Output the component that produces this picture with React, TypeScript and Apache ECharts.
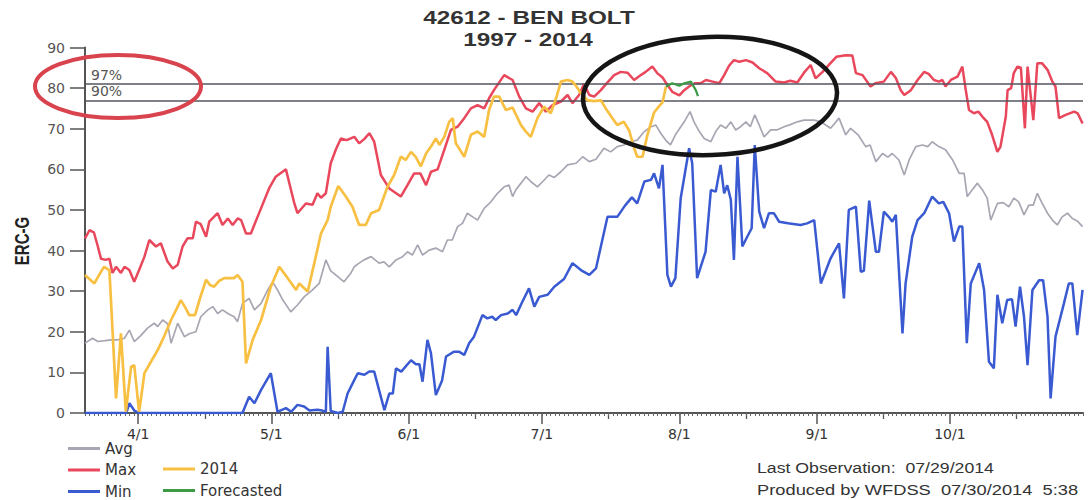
import React, { useEffect, useRef } from "react";
import * as echarts from "echarts";

// Day index 0 = March 20; last day 225 = October 31
const monthTickDays = [12, 42, 73, 103, 134, 165, 195];
const monthTickLabels = ["4/1", "5/1", "6/1", "7/1", "8/1", "9/1", "10/1"];
const midMonthTickDays = [27, 57, 88, 118, 149, 180, 210];

const percentileLevels = [81, 77];
const percentileLabels = ["97%", "90%"];

const titleLines = ["42612 - BEN BOLT", "1997 - 2014"];
const yAxisTitle = "ERC-G";
const lastObservation = "Last Observation:  07/29/2014";
const producedBy = "Produced by WFDSS  07/30/2014  5:38";

const avgData: number[][] = [
  [0, 17.2], [1.7, 18.4], [2.9, 17.6], [4.5, 17.8], [5.9, 18], [7.3, 18], [8.9, 18.4], [10, 20.4], [11.1, 17.6],
  [12.5, 19], [14.1, 20.9], [15.6, 22.1], [16.4, 21.3], [17.5, 22.9], [18.6, 22], [19.4, 17.2], [20.9, 22.1],
  [22.4, 18.8], [23.5, 19.5], [25, 20], [26.1, 23.7], [27.7, 25.4], [28.8, 26.2], [29.9, 24.5], [31, 25.4],
  [32.2, 24.5], [33.6, 23.7], [34.4, 22.5], [35.5, 27], [37, 28.2], [38.2, 25.4], [39.7, 27], [41.2, 30.3],
  [42.3, 32.3], [43.4, 30.3], [44.6, 27.8], [46.4, 24.9], [47.9, 26.6], [49.4, 28.6], [51.3, 30.3], [52.8, 31.9],
  [54.3, 37.7], [55.4, 35], [57, 33.6], [58.4, 32.3], [59.9, 34.4], [60.7, 36], [61.8, 36.9], [62.9, 37.7],
  [64.5, 38.5], [66.3, 36.9], [67.4, 37.2], [68.6, 36], [70.1, 37.7], [71.6, 38.5], [72.7, 39.7], [73.8, 38.9],
  [75, 41.4], [76.1, 38.9], [77.6, 40.1], [79.1, 40.6], [80.6, 39.7], [81.7, 42.6], [82.8, 42.6], [84, 45.9],
  [85.1, 46.7], [86.2, 49.2], [87.4, 48.3], [88.5, 47.5], [90, 50.4], [91.5, 52], [93, 54.1], [94.5, 55.7],
  [95.6, 56.1], [96.4, 53.3], [97.1, 54.9], [98.3, 56.6], [99.4, 58.2], [100.5, 57], [102, 55.7], [103.2, 57],
  [104.6, 58.6], [105.8, 58], [107.3, 59.4], [108.8, 61.1], [110.7, 61.5], [112.2, 63.1], [113.7, 61.9],
  [115.2, 62.5], [117, 65.2], [118.5, 64.3], [120, 65.6], [121.5, 66], [123, 66.8], [124.5, 67.2], [126.1, 69.3],
  [127.6, 70.5], [128.7, 70.9], [129.8, 68.9], [130.9, 67.2], [132, 66], [133.1, 68.5], [135.1, 71.7],
  [136.4, 74.2], [137.3, 71.7], [138.5, 69.3], [139.6, 67.6], [141.1, 66.8], [142.2, 69.3], [143.3, 70.9],
  [144.5, 70.1], [145.6, 71.7], [146.7, 69.7], [147.8, 70.5], [149, 71.7], [150, 70.5], [151, 73.4], [152, 70.9],
  [153.1, 68], [154.6, 69.7], [156, 69.7], [157.6, 70.5], [159, 71], [160.6, 71.7], [162.1, 72.1], [164.4, 72.1],
  [165.9, 71.7], [167, 70.9], [168.1, 70.1], [170, 72.6], [171.5, 68.5], [172.6, 70.1], [174.3, 68.5], [176, 65.6],
  [177, 66], [178.3, 61.9], [179.8, 63.9], [181, 63], [182, 63.9], [183.5, 62.3], [184.7, 58.6], [185.8, 62.3],
  [187.3, 65.6], [188.8, 66], [190, 65.6], [191, 66.8], [192.5, 65.6], [194, 64.8], [195.6, 62.3], [197.1, 59],
  [198.2, 59], [198.9, 53.3], [200, 54.9], [201.2, 56.6], [202.3, 55], [203.4, 52.9], [204.2, 47.5], [205.7, 51.6],
  [207, 51.8], [208.3, 50.8], [209.4, 52.9], [210.5, 52], [211.7, 48.8], [212.8, 51.2], [213.8, 51.2],
  [214.7, 54.1], [215.8, 51.6], [217, 49.2], [218.1, 47.5], [219.2, 46.3], [220.3, 48.3], [221.5, 49.2],
  [222.6, 47.9], [223.7, 47.3], [224.9, 45.9],
];

const maxData: number[][] = [
  [0, 43], [1, 45], [2, 44.5], [2.9, 41], [3.6, 38], [4.7, 37.7], [5.5, 38], [6.2, 34.5], [7, 36], [8.1, 34.5],
  [8.9, 36], [10, 35.2], [11.1, 32.3], [12.2, 35.2], [13.4, 38.5], [14.5, 42.6], [16, 41], [17.1, 41.8],
  [18.6, 37.3], [19.8, 35.6], [20.9, 36.5], [22, 41], [23.1, 43], [24.3, 43], [25, 47.1], [26.1, 46.5],
  [27.3, 43.4], [28, 47.1], [29.9, 49.2], [31, 46.3], [32.2, 47.9], [33.3, 46.3], [34.4, 47.9], [35.2, 47.5],
  [36.3, 44.2], [37.4, 44.2], [38.9, 48.3], [41.5, 55.3], [43, 58.2], [45.3, 60], [47.2, 51.6], [47.9, 49.2],
  [49.8, 51.6], [51.3, 51.3], [52.4, 54.1], [53.2, 53], [54.3, 54.1], [55.4, 61.5], [56.6, 65], [57.7, 67.6],
  [59, 67.2], [60.7, 68], [61.8, 66.4], [63, 67.5], [64.1, 68.9], [65.2, 66.8], [66.7, 58.6], [68.6, 55.3],
  [71.2, 53.3], [72.7, 56.1], [74.2, 59], [75.6, 59], [76.9, 56.1], [78, 59.4], [79.5, 60], [81, 64.8],
  [82.5, 69.7], [84, 70.5], [85.5, 72.6], [87, 75], [88.5, 75.8], [90, 75], [91.1, 77.5], [92.2, 79.5], [93, 80.8],
  [94.5, 83.2], [96.4, 82], [97.9, 77.9], [99.4, 75], [100.9, 74.2], [102.4, 76.3], [103.9, 74.2], [105.4, 75.8],
  [107.3, 76.7], [108.8, 78.3], [109.9, 76.3], [111.4, 78.3], [112.5, 81], [113.7, 78.3], [114.8, 77.9],
  [116.3, 79.5], [117.8, 81.4], [119.3, 83.2], [120.8, 84], [122.3, 83.8], [123.8, 82], [125, 83], [126.4, 84],
  [127.9, 85.3], [129, 83.7], [130.2, 82.6], [131.3, 80.8], [132.4, 79.1], [134, 78.2], [135.1, 79.5],
  [136.2, 80.4], [137.5, 81.2], [138.8, 81.2], [140, 82], [141.5, 81.6], [143, 81.2], [144.1, 83.2], [145.2, 85.5],
  [146.3, 86.9], [147.5, 86.5], [149, 86.9], [150.5, 86.3], [152, 84.9], [153.8, 83.7], [155.7, 81.6],
  [157.6, 81.4], [159, 81.8], [160.6, 81.4], [162.1, 83.8], [163.6, 85.7], [164.7, 82.4], [166.3, 84],
  [167.7, 85.7], [169.4, 87.7], [171.5, 88.1], [173, 88], [173.8, 83.7], [175.3, 83.2], [177.1, 80.4],
  [178.2, 81.2], [180.1, 81.6], [181.7, 84], [182.8, 82.5], [183.9, 79.5], [184.7, 78.3], [186.2, 79.5],
  [187.7, 82], [189.2, 84], [190.2, 83.5], [191.4, 82], [192.5, 81.6], [193.3, 82], [194, 80.4], [195.2, 82],
  [196.7, 82.8], [197.8, 85.3], [198.5, 80], [199.3, 74.6], [200.4, 73.8], [201.4, 74.2], [202.3, 73],
  [203.4, 71.7], [204.5, 68.5], [205.7, 64.3], [206.4, 65.6], [207.6, 73], [208, 79.5], [208.8, 80], [209.4, 83.7],
  [210.2, 85.3], [211, 85], [211.9, 70.1], [212.5, 85.3], [213.8, 72.1], [214.7, 86.1], [215.8, 86.1], [217, 84.5],
  [218.1, 81.6], [218.8, 80.4], [219.6, 72.6], [221.1, 73.4], [223, 74.2], [223.8, 73.8], [224.9, 71.3],
];

const minData: number[][] = [
  [0, 0], [9.3, 0], [10, 2.4], [11.2, 0.5], [12.2, 0], [35.5, 0], [37, 4], [38.2, 2.4], [39.7, 5.7], [41.9, 9.8],
  [43.4, 0.3], [45.3, 1.2], [46.5, 0.3], [47.9, 2], [49.4, 1.6], [50.6, 0.6], [52.4, 0.8], [53.5, 0.6], [54.3, 0.3],
  [54.7, 16.3], [55.4, 0.5], [57, 0], [58.1, 0.3], [59.2, 4.8], [60.7, 8.1], [61.5, 9.8], [63, 9.4], [64.1, 10.2],
  [65.2, 10.2], [67.5, 0.7], [68.6, 4.8], [69.4, 4.8], [70.1, 11], [71.3, 10.2], [73.5, 13], [74.6, 12],
  [75.4, 12], [76.1, 7.7], [77.2, 18], [78, 14.7], [79.1, 4.4], [80.5, 8], [81.4, 13.9], [83.2, 15.1],
  [84.3, 15.1], [85.5, 14.3], [86.6, 17.2], [87.7, 18.8], [89.6, 24.1], [90.7, 23.3], [91.8, 23.7], [92.6, 22.9],
  [93.8, 24.1], [95.3, 24.5], [96.4, 25.4], [97.2, 24.1], [98.6, 27.4], [100.1, 30.7], [101.3, 26.2],
  [102.4, 28.6], [104.3, 29.1], [105.8, 31.1], [108, 33], [109.9, 36.9], [111.8, 35.2], [113.7, 34],
  [115.2, 35.6], [116.3, 41], [117.8, 48.3], [120, 48.3], [121.7, 51], [123.3, 53.1], [124.5, 51.6], [126.1, 57],
  [127.6, 57.4], [128.3, 59], [129.4, 55.3], [130.2, 61.1], [131.3, 34], [132.1, 31.1], [133.1, 33.2],
  [134.3, 52.9], [136.2, 65.2], [136.9, 61.5], [138, 33.2], [139.9, 39.7], [141.1, 54.9], [142.2, 54.5],
  [143.3, 61.1], [144.1, 54.1], [144.8, 56.1], [145.6, 52.5], [146.3, 37.7], [147.1, 63.1], [148.2, 41],
  [149.3, 43.4], [150.3, 45.5], [151, 66], [152, 49.6], [153.1, 45.5], [154.2, 49.2], [155.3, 49.2], [156.5, 47.1],
  [158.5, 46.7], [161.3, 46.3], [162.8, 46.7], [164.4, 47.5], [165.9, 31.9], [168.1, 38.1], [170, 41.8],
  [171.1, 28.2], [172.2, 50], [173.8, 50.8], [174.9, 34.8], [175.6, 35], [176.8, 52.3], [178.3, 39.7], [179, 39.7],
  [180.1, 49.6], [181.2, 48.3], [182, 47.1], [182.8, 48.8], [184.3, 19.6], [185, 31.9], [186.5, 43.4],
  [187.7, 47.5], [189.2, 49.2], [191, 53.3], [192.5, 51.6], [193.5, 52], [194.8, 49.2], [195.9, 42.2],
  [197.1, 45.9], [197.8, 45.9], [198.8, 17.2], [199.7, 31.9], [201.6, 36.9], [202.7, 30.3], [203.8, 12.6],
  [204.9, 11], [205.7, 29.1], [206.8, 22.1], [207.9, 27.8], [209, 28], [209.8, 21.3], [210.8, 31.1],
  [211.7, 23.7], [212.5, 11.8], [213.6, 30.3], [215.1, 32.7], [216, 32.7], [217, 23.7], [217.7, 3.6],
  [218.8, 18.8], [220.7, 27], [221.8, 31.9], [222.6, 31.9], [223.7, 19.2], [224.9, 30.3],
];

const data2014: number[][] = [
  [0, 34], [1, 33], [2.1, 31.9], [3.2, 34], [4.3, 36], [5.5, 35.2], [7, 3.6], [8.1, 19.6], [9.2, 0.3], [10.4, 11.4],
  [11.1, 11.8], [12.2, 0.3], [13.4, 9.8], [14.8, 12.5], [16.4, 15.5], [17.9, 19], [19.4, 22.9], [20.6, 25.5],
  [21.6, 27.8], [22.6, 26], [23.5, 24.1], [24.8, 24.1], [26, 28.5], [27.3, 32.8], [28.2, 31.5], [29.1, 31.1],
  [30.2, 32.5], [31.4, 33.2], [32.5, 33.2], [33.6, 33.2], [34.4, 34], [35.5, 32.3], [36.3, 12.2], [37.8, 18],
  [39.7, 22.9], [41.9, 31.1], [43.8, 36], [45.7, 33.2], [47.6, 30.3], [48.3, 31.9], [50.2, 29.9], [51.7, 36.9],
  [53.2, 44.2], [54.7, 47.5], [55.4, 50.8], [57.1, 55.9], [58.8, 53.3], [60.3, 50.8], [61.8, 46.3], [63.3, 46.3],
  [64.5, 49.2], [66.3, 50], [68.2, 55.7], [69.7, 58.6], [71.2, 63.1], [72.3, 62.3], [73.5, 64.3], [74.6, 63],
  [75.7, 60.7], [76.9, 63.9], [78, 65.6], [79.1, 67.6], [79.9, 66], [81, 68], [82.1, 71.7], [82.9, 72.6],
  [83.6, 66.4], [85.5, 63.1], [87, 68.5], [88.5, 69.3], [90, 68], [91.1, 74.6], [92.2, 77.9], [93.4, 77.9],
  [94.9, 74.6], [96.4, 75.2], [98.3, 70.9], [99.4, 69.3], [100.5, 68], [102, 72.6], [103.5, 75.4], [105, 73.8],
  [106.2, 77.5], [107.3, 81.6], [108.8, 82], [109.9, 81.6], [110.8, 80.4], [111.8, 78.7], [113.3, 77],
  [114.8, 76.8], [116.3, 77], [117.4, 75], [118.9, 72.6], [120, 70.9], [121.5, 71.7], [122.7, 69.5],
  [123.8, 65.2], [124.5, 63.1], [125.7, 63.1], [126.8, 68.5], [128.3, 74], [129.4, 75.5], [130.2, 76.5],
  [131, 80.4],
];

const forecastData: number[][] = [
  [131, 80.4], [132.4, 81.2], [134, 80.6], [135.1, 81.2], [136.6, 81.6], [137.7, 79.5], [138.2, 78],
];

const FONT_UI = '"DejaVu Sans", "Liberation Sans", Arial, sans-serif';
const FONT_ARIAL = '"Liberation Sans", Arial, sans-serif';

export default function App() {
  const ref = useRef<HTMLDivElement>(null);

  useEffect(() => {
    if (!ref.current) return;
    const chart = echarts.init(ref.current, undefined, { renderer: "svg" });

    const lineSeries = (name: string, data: number[][], color: string, width: number, z: number) => ({
      name,
      type: "line",
      data,
      showSymbol: false,
      symbol: "none",
      xAxisIndex: 0,
      yAxisIndex: 0,
      z,
      lineStyle: { color, width },
      itemStyle: { color },
    });

    const avgSeries: any = lineSeries("Avg", avgData, "#aaa5b2", 1.7, 2);
    avgSeries.markLine = {
      silent: true,
      symbol: ["none", "none"],
      lineStyle: { color: "#55555f", width: 1.5, type: "solid" },
      label: {
        position: "insideStartTop",
        distance: [6, 2],
        fontFamily: FONT_UI,
        fontSize: 14,
        color: "#555",
      },
      data: percentileLevels.map((v, i) => ({
        yAxis: v,
        name: percentileLabels[i],
        label: { formatter: percentileLabels[i] },
      })),
    };

    const legendCommon = {
      orient: "vertical",
      icon: "rect",
      itemWidth: 32,
      itemHeight: 3,
      itemGap: 6.5,
      padding: 0,
      width: 150,
      height: 80,
      selectedMode: false,
      textStyle: { fontFamily: FONT_UI, fontSize: 15, color: "#333", lineHeight: 14 },
    };

    const option: any = {
      animation: false,
      backgroundColor: "#ffffff",
      grid: { left: 85, right: 5, top: 47.5, bottom: 87, containLabel: false },
      legend: [
        { ...legendCommon, left: 68, top: 441, data: ["Avg", "Max", "Min"] },
        { ...legendCommon, left: 163, top: 461.5, data: ["2014", "Forecasted"] },
      ],
      xAxis: [
        {
          type: "value",
          min: 0,
          max: 225,
          position: "bottom",
          axisLine: { show: true, onZero: false, lineStyle: { color: "#555", width: 2 } },
          axisTick: { show: true, customValues: monthTickDays, length: 11, lineStyle: { color: "#555", width: 1.5 } },
          axisLabel: {
            show: true,
            customValues: monthTickDays,
            margin: 14,
            fontFamily: FONT_UI,
            fontSize: 14,
            color: "#333",
            formatter: (v: number) => {
              const i = monthTickDays.indexOf(Math.round(v));
              return i >= 0 ? monthTickLabels[i] : "";
            },
          },
          splitLine: { show: false },
        },
        {
          type: "value",
          min: 0,
          max: 225,
          position: "bottom",
          axisLine: { show: false, onZero: false },
          axisTick: { show: true, customValues: midMonthTickDays, length: 6, lineStyle: { color: "#555", width: 1.3 } },
          axisLabel: { show: false },
          splitLine: { show: false },
        },
        {
          type: "value",
          min: 0,
          max: 225,
          interval: 1,
          position: "bottom",
          axisLine: { show: false, onZero: false },
          axisTick: { show: true, length: 3, lineStyle: { color: "#666", width: 1 } },
          axisLabel: { show: false },
          splitLine: { show: false },
        },
      ],
      yAxis: {
        type: "value",
        min: 0,
        max: 90,
        interval: 10,
        axisLine: { show: true, lineStyle: { color: "#555", width: 2 } },
        axisTick: { show: true, length: 15, lineStyle: { color: "#555", width: 1.5 } },
        axisLabel: { margin: 20, fontFamily: FONT_UI, fontSize: 14, color: "#555" },
        splitLine: { show: false },
      },
      series: [
        avgSeries,
        lineSeries("Max", maxData, "#e8475c", 2.5, 3),
        lineSeries("Min", minData, "#3a5ad2", 2.5, 4),
        lineSeries("2014", data2014, "#f8c043", 2.7, 5),
        lineSeries("Forecasted", forecastData, "#3d9a45", 2.2, 6),
      ],
      graphic: [
        {
          type: "text",
          x: 529,
          y: 18,
          scaleX: 1.35,
          style: {
            text: titleLines[0],
            font: `bold 18px ${FONT_ARIAL}`,
            fill: "#333",
            textAlign: "center",
            textVerticalAlign: "middle",
          },
        },
        {
          type: "text",
          x: 528,
          y: 40,
          scaleX: 1.35,
          style: {
            text: titleLines[1],
            font: `bold 18px ${FONT_ARIAL}`,
            fill: "#333",
            textAlign: "center",
            textVerticalAlign: "middle",
          },
        },
        {
          type: "text",
          x: 22,
          y: 241,
          rotation: Math.PI / 2,
          scaleY: 1.35,
          style: {
            text: yAxisTitle,
            font: `bold 15px ${FONT_ARIAL}`,
            fill: "#222",
            textAlign: "center",
            textVerticalAlign: "middle",
          },
        },
        {
          type: "text",
          x: 757,
          y: 468,
          scaleX: 1.18,
          style: {
            text: lastObservation,
            font: `15px ${FONT_ARIAL}`,
            fill: "#333",
            textAlign: "left",
            textVerticalAlign: "middle",
          },
        },
        {
          type: "text",
          x: 757,
          y: 490,
          scaleX: 1.22,
          style: {
            text: producedBy,
            font: `15px ${FONT_ARIAL}`,
            fill: "#333",
            textAlign: "left",
            textVerticalAlign: "middle",
          },
        },
        {
          type: "ellipse",
          x: 118,
          y: 86.5,
          z: 100,
          shape: { cx: 0, cy: 0, rx: 83, ry: 31.5 },
          style: { fill: "none", stroke: "#d8434d", lineWidth: 4 },
        },
        {
          type: "ellipse",
          x: 710,
          y: 96,
          rotation: 0.03,
          z: 100,
          shape: { cx: 0, cy: 0, rx: 127, ry: 59 },
          style: { fill: "none", stroke: "#151515", lineWidth: 4.5 },
        },
      ],
    };

    chart.setOption(option);
    return () => chart.dispose();
  }, []);

  return (
    <div
      ref={ref}
      style={{ position: "absolute", left: 0, top: 0, width: 1088, height: 500, background: "#fff" }}
    />
  );
}
